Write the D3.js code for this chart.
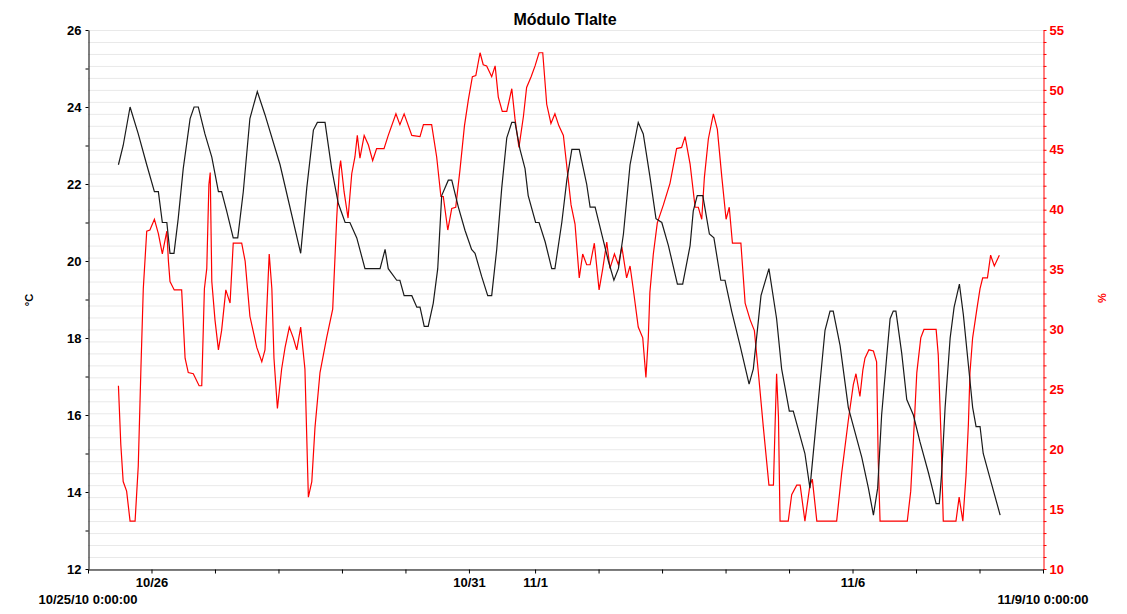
<!DOCTYPE html>
<html>
<head>
<meta charset="utf-8">
<script src="https://cdn.jsdelivr.net/npm/d3@7"></script>
<style>
  body { margin: 0; background: #fff; }
  text { font-family: Arial, "Liberation Sans", sans-serif; font-weight: bold; }
</style>
</head>
<body>
<svg id="chart" width="1127" height="614"></svg>
<script>
const title = 'Módulo Tlalte';

// time is in hours since 10/25/10 0:00:00 (10/31 is a 25 h day, DST change)
const dayTicks = [0, 24, 48, 72, 96, 120, 144, 169, 193, 217, 241, 265, 289, 313, 337, 361];
const dayLabels = ['', '10/26', '', '', '', '', '10/31', '11/1', '', '', '', '', '11/6', '', '', ''];
const edgeLabels = ['10/25/10 0:00:00', '11/9/10 0:00:00'];

// temperature (°C, left axis)
const tempHours = [
  11.5, 13.3, 15.9, 19.0, 22.2, 25.1, 26.6, 28.1, 29.8, 31.0,
  32.5, 34.1, 36.0, 38.6, 40.1, 41.7, 44.2, 46.8, 49.3, 50.5,
  52.4, 54.9, 56.6, 58.7, 61.2, 64.0, 66.9, 72.6, 80.4, 82.7,
  85.2, 86.7, 89.6, 92.1, 94.6, 97.2, 99.0, 101.6, 104.7, 110.4,
  112.3, 113.5, 116.7, 117.9, 119.5, 122.4, 124.3, 125.5, 127.1, 128.6,
  130.5, 132.2, 133.7, 136.2, 137.5, 140.0, 142.5, 145.0, 146.3, 148.8,
  151.1, 152.6, 154.5, 156.4, 158.3, 160.2, 161.4, 163.3, 165.2, 166.4,
  169.2, 170.5, 172.8, 175.3, 176.5, 179.1, 181.0, 182.9, 185.7, 188.5,
  189.8, 191.7, 194.2, 196.7, 198.8, 200.5, 202.4, 204.9, 208.0, 209.9,
  212.4, 214.7, 216.9, 219.4, 222.8, 224.8, 227.6, 228.8, 230.3, 232.4,
  234.9, 236.6, 239.2, 240.8, 243.3, 246.5, 249.9, 251.5, 254.4, 257.4,
  260.3, 262.2, 265.1, 266.6, 271.0, 272.9, 278.6, 280.5, 281.7, 284.3,
  287.4, 292.5, 295.0, 296.9, 298.5, 300.0, 301.9, 303.2, 304.4, 305.4,
  307.6, 309.5, 312.0, 314.5, 317.7, 320.6, 321.8, 322.7, 324.0, 325.9,
  327.4, 329.4, 330.9, 332.8, 334.4, 335.7, 337.2, 338.4, 341.6, 344.8
];
const tempValues = [
  22.5, 23.0, 24.0, 23.3, 22.5, 21.8, 21.8, 21.0, 21.0, 20.2,
  20.2, 21.1, 22.4, 23.7, 24.0, 24.0, 23.3, 22.7, 21.8, 21.8,
  21.3, 20.6, 20.6, 21.8, 23.7, 24.4, 23.8, 22.5, 20.2, 21.9,
  23.4, 23.6, 23.6, 22.4, 21.5, 21.0, 21.0, 20.6, 19.8, 19.8,
  20.3, 19.8, 19.5, 19.5, 19.1, 19.1, 18.8, 18.8, 18.3, 18.3,
  18.9, 19.8, 21.7, 22.1, 22.1, 21.4, 20.8, 20.3, 20.2, 19.6,
  19.1, 19.1, 20.3, 21.9, 23.2, 23.6, 23.6, 22.9, 22.4, 21.7,
  21.0, 21.0, 20.5, 19.8, 19.8, 21.0, 22.1, 22.9, 22.9, 22.0,
  21.4, 21.4, 20.7, 20.0, 19.5, 19.8, 20.7, 22.5, 23.6, 23.3,
  22.2, 21.1, 21.0, 20.4, 19.4, 19.4, 20.4, 21.3, 21.7, 21.7,
  20.7, 20.6, 19.5, 19.5, 18.7, 17.8, 16.8, 17.2, 19.1, 19.8,
  18.5, 17.2, 16.1, 16.1, 15.0, 14.1, 18.2, 18.7, 18.7, 17.8,
  16.2, 14.9, 14.1, 13.4, 14.1, 16.0, 17.5, 18.5, 18.7, 18.7,
  17.6, 16.4, 16.0, 15.3, 14.5, 13.7, 13.7, 14.5, 16.2, 18.0,
  18.8, 19.4, 18.6, 17.3, 16.2, 15.7, 15.7, 15.0, 14.2, 13.4
];

// relative humidity (%, right axis)
const humHours = [
  11.5, 12.4, 13.3, 14.6, 15.9, 17.8, 19.0, 20.0, 20.9, 22.2,
  23.4, 25.1, 26.6, 28.1, 29.8, 30.4, 31.0, 32.6, 35.4, 36.7,
  37.9, 39.8, 42.0, 43.0, 44.0, 44.9, 45.7, 46.2, 46.8, 48.0,
  49.3, 50.5, 52.1, 53.7, 54.9, 58.1, 59.4, 61.2, 63.8, 65.7,
  66.9, 68.5, 69.5, 70.3, 71.6, 73.2, 74.5, 76.1, 77.6, 78.9,
  80.4, 82.0, 83.3, 84.6, 85.8, 87.7, 90.2, 92.5, 94.0, 95.0,
  95.5, 96.8, 98.3, 99.7, 100.9, 101.8, 102.8, 104.4, 106.0, 107.6,
  109.1, 111.9, 113.5, 116.4, 117.9, 119.5, 122.4, 125.5, 126.8, 129.9,
  131.8, 133.4, 134.3, 136.0, 137.5, 139.0, 140.6, 142.3, 143.8, 145.3,
  146.6, 148.2, 149.4, 150.7, 152.6, 153.9, 155.1, 156.6, 158.3, 160.2,
  161.4, 162.9, 164.6, 165.8, 167.5, 169.0, 170.5, 171.9, 173.4, 175.0,
  176.5, 178.0, 179.7, 181.0, 182.6, 184.1, 185.7, 187.0, 188.5, 189.8,
  191.4, 193.2, 194.6, 196.1, 197.3, 199.0, 200.5, 201.8, 203.6, 204.9,
  206.1, 208.0, 209.7, 210.9, 211.8, 212.4, 213.7, 215.2, 217.5, 220.0,
  222.5, 224.4, 225.7, 227.6, 229.5, 230.7, 232.0, 233.0, 234.5, 236.4,
  237.9, 239.6, 241.2, 242.4, 243.6, 246.8, 248.4, 250.3, 251.9, 253.4,
  255.3, 257.4, 259.1, 259.7, 260.3, 261.0, 261.6, 264.7, 266.0, 267.9,
  269.2, 271.0, 272.9, 273.8, 275.5, 283.0, 284.9, 287.4, 289.3, 290.3,
  291.8, 292.9, 293.7, 295.2, 296.9, 298.1, 298.7, 299.4, 309.7, 311.0,
  312.0, 313.3, 314.8, 316.0, 320.6, 321.4, 322.5, 323.3, 328.1, 329.3,
  330.7, 331.9, 332.8, 333.4, 334.4, 336.0, 337.2, 338.2, 340.0, 341.2,
  342.6, 344.5
];
const humValues = [
  25.3, 20.4, 17.3, 16.5, 14.0, 14.0, 18.6, 26.7, 33.4, 38.2,
  38.3, 39.2, 38.0, 36.3, 38.2, 35.7, 34.0, 33.3, 33.3, 27.6,
  26.4, 26.3, 25.3, 25.3, 33.4, 35.1, 42.1, 43.1, 34.0, 30.8,
  28.3, 29.9, 33.3, 32.2, 37.2, 37.2, 35.7, 31.1, 28.5, 27.3,
  28.3, 36.3, 33.4, 27.6, 23.4, 26.7, 28.5, 30.2, 29.3, 28.3,
  30.2, 26.7, 16.0, 17.3, 21.8, 26.4, 29.3, 31.7, 39.2, 43.3,
  44.1, 41.5, 39.3, 43.0, 44.4, 46.2, 44.3, 46.2, 45.4, 44.1,
  45.1, 45.1, 46.2, 48.0, 47.1, 48.0, 46.2, 46.1, 47.1, 47.1,
  44.4, 41.1, 41.1, 38.3, 40.1, 40.2, 43.3, 47.0, 49.2, 51.1,
  51.2, 53.1, 52.1, 52.0, 51.1, 52.0, 49.4, 48.2, 48.2, 50.1,
  47.6, 45.2, 47.8, 50.2, 51.1, 52.0, 53.1, 53.1, 48.8, 47.2,
  48.0, 47.0, 46.2, 43.6, 40.4, 38.8, 34.3, 36.3, 35.4, 35.4,
  37.2, 33.3, 35.1, 37.3, 35.1, 36.3, 35.4, 36.9, 34.3, 35.3,
  33.4, 30.2, 29.3, 26.0, 29.3, 33.1, 36.3, 38.9, 40.4, 42.2,
  45.1, 45.2, 46.1, 43.8, 40.2, 40.2, 39.2, 42.7, 45.9, 48.0,
  46.7, 42.7, 39.2, 40.2, 37.2, 37.2, 32.2, 30.8, 29.9, 26.4,
  21.8, 17.0, 17.0, 21.8, 26.3, 22.7, 14.0, 14.0, 16.2, 17.0,
  17.0, 14.0, 17.0, 17.5, 14.0, 14.0, 18.0, 22.4, 25.4, 26.3,
  24.4, 26.6, 27.6, 28.3, 28.2, 27.3, 19.2, 14.0, 14.0, 16.5,
  20.7, 26.4, 29.3, 30.0, 30.0, 27.9, 20.7, 14.0, 14.0, 16.0,
  14.0, 17.8, 22.1, 26.4, 29.3, 31.7, 33.4, 34.3, 34.3, 36.2,
  35.3, 36.2
];

const svg = d3.select('#chart');
const plotLeft = 88, plotRight = 1043, plotTop = 30, plotBottom = 569;

const x = d3.scaleLinear().domain([0, 361]).range([plotLeft, plotRight]);
const yTemp = d3.scaleLinear().domain([12, 26]).range([plotBottom, plotTop]);
const yHum = d3.scaleLinear().domain([10, 55]).range([plotBottom, plotTop]);

// light grid, one line per % step
svg.append('g')
  .selectAll('line')
  .data(d3.range(10, 56))
  .join('line')
  .attr('x1', plotLeft).attr('x2', plotRight)
  .attr('y1', d => yHum(d) + 0.5).attr('y2', d => yHum(d) + 0.5)
  .attr('stroke', '#e9e9e9');

// axes
const gLeft = svg.append('g')
  .attr('transform', `translate(${plotLeft + 0.5},0)`)
  .call(d3.axisLeft(yTemp).tickValues(d3.range(12, 27)).tickFormat(d => d % 2 ? '' : d)
    .tickSize(3).tickSizeOuter(0).tickPadding(4));

const gRight = svg.append('g')
  .attr('transform', `translate(${plotRight + 0.5},0)`)
  .call(d3.axisRight(yHum).tickValues(d3.range(10, 56)).tickFormat(d => d % 5 ? '' : d)
    .tickSize(3).tickSizeOuter(0).tickPadding(3));

const gBottom = svg.append('g')
  .attr('transform', `translate(0,${plotBottom + 0.5})`)
  .call(d3.axisBottom(x).tickValues(dayTicks).tickFormat((d, i) => dayLabels[i])
    .tickSize(4).tickSizeOuter(0).tickPadding(4));

[gLeft, gRight, gBottom].forEach(g => {
  g.attr('font-family', null).attr('font-size', null);
  g.selectAll('text')
    .attr('font-size', 13)
    .attr('font-weight', 'bold');
});
gLeft.selectAll('path, line').attr('stroke', '#000');
gBottom.selectAll('path, line').attr('stroke', '#000');
gLeft.selectAll('text').attr('fill', '#000');
gBottom.selectAll('text').attr('fill', '#000');
gRight.selectAll('path, line').attr('stroke', '#ff0000');
gRight.selectAll('text').attr('fill', '#ff0000');

// date/time labels under the ends of the time axis
svg.append('g')
  .selectAll('text')
  .data(edgeLabels)
  .join('text')
  .attr('x', (d, i) => x(i ? 361 : 0))
  .attr('y', 604)
  .attr('text-anchor', 'middle')
  .attr('font-size', 13)
  .text(d => d);

// series
const tempData = d3.zip(tempHours, tempValues);
const humData = d3.zip(humHours, humValues);

svg.append('path')
  .datum(humData)
  .attr('fill', 'none')
  .attr('stroke', '#ff0000')
  .attr('stroke-width', 1.2)
  .attr('d', d3.line().x(d => x(d[0])).y(d => yHum(d[1])));

svg.append('path')
  .datum(tempData)
  .attr('fill', 'none')
  .attr('stroke', '#1a1a1a')
  .attr('stroke-width', 1.2)
  .attr('d', d3.line().x(d => x(d[0])).y(d => yTemp(d[1])));

// titles
svg.append('text')
  .attr('x', 565).attr('y', 25)
  .attr('text-anchor', 'middle')
  .attr('font-size', 16)
  .text(title);

svg.append('text')
  .attr('transform', 'translate(33,300) rotate(-90)')
  .attr('text-anchor', 'middle')
  .attr('font-size', 11)
  .text('°C');

svg.append('text')
  .attr('transform', 'translate(1106,298) rotate(-90)')
  .attr('text-anchor', 'middle')
  .attr('font-size', 11)
  .attr('fill', '#ff0000')
  .text('%');
</script>
</body>
</html>
